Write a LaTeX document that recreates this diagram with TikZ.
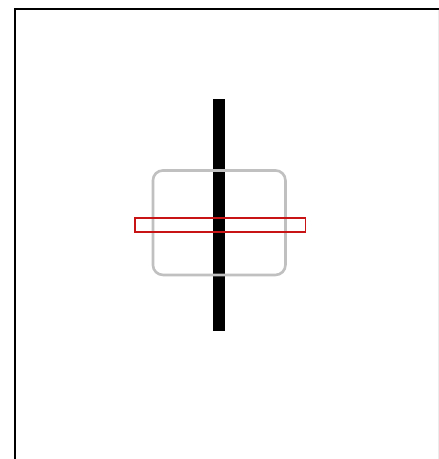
\documentclass[tikz,border=0pt]{standalone}
\begin{document}
\begin{tikzpicture}[x=1pt,y=-1pt,
  framebox/.style={draw=black,line width=1.6pt},
  barstyle/.style={fill=black,draw=none,inner sep=0pt,minimum width=12pt,minimum height=232pt},
  graybox/.style={draw={rgb,255:red,192;green,192;blue,192},line width=2.6pt,rounded corners=10pt,inner sep=0pt},
  redbox/.style={draw={rgb,255:red,200;green,20;blue,20},line width=1.6pt,inner sep=0pt}]
\useasboundingbox[fill=white] (0,0) rectangle (439,459);
\draw[framebox] (14.8,470) -- (14.8,8.8) -- (450,8.8);
\draw[draw={rgb,255:red,235;green,235;blue,235},line width=0.8pt] (438.5,9.6) -- (438.5,470);
\node[barstyle] (bar) at (218.5,215) {};
\node[graybox,minimum width=132.5pt,minimum height=104.5pt] (frameg) at (219.2,222.7) {};
\node[redbox,minimum width=170.8pt,minimum height=14pt] (red) at (220.1,225) {};
\end{tikzpicture}
\end{document}
